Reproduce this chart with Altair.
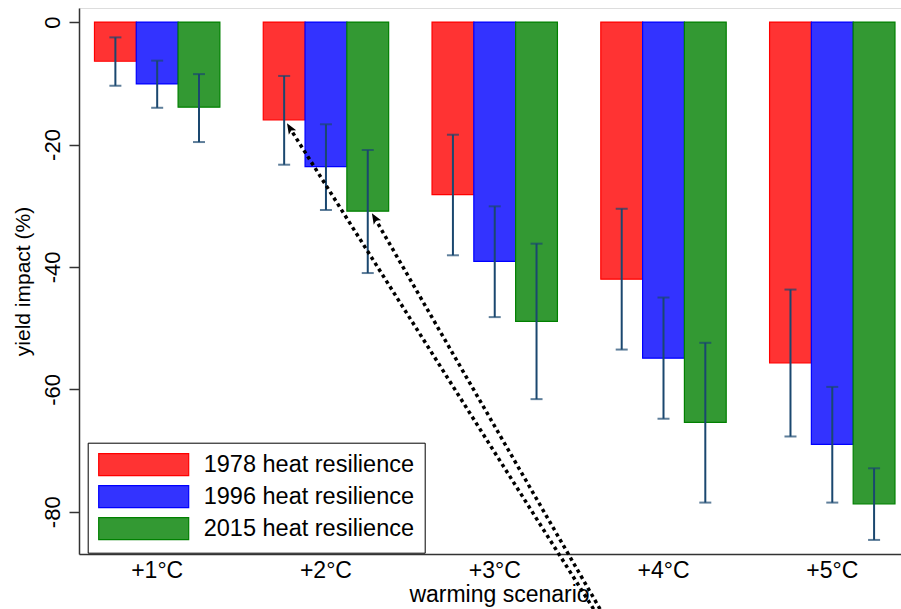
import altair as alt
import pandas as pd

# ---- data ----
scenarios = ["+1°C", "+2°C", "+3°C", "+4°C", "+5°C"]
series = ["1978 heat resilience", "1996 heat resilience", "2015 heat resilience"]

impact_1978 = [-6.4, -16.0, -28.2, -42.0, -55.7]
impact_1996 = [-10.1, -23.6, -39.1, -54.9, -69.0]
impact_2015 = [-13.9, -30.9, -48.9, -65.4, -78.7]

hi_1978 = [-2.5, -8.8, -18.4, -30.5, -43.7]
lo_1978 = [-10.4, -23.3, -38.1, -53.5, -67.7]
hi_1996 = [-6.3, -16.7, -30.1, -45.0, -59.6]
lo_1996 = [-14.0, -30.7, -48.2, -64.8, -78.5]
hi_2015 = [-8.5, -20.9, -36.2, -52.4, -72.9]
lo_2015 = [-19.6, -41.0, -61.6, -78.5, -84.6]

y_ticks = [0, -20, -40, -60, -80]

# annotation arrows (scenario-index units on x, impact units on y)
arrow_x_start = [3.587, 3.625]
arrow_y_start = [-95.9, -95.9]
arrow_x_end = [1.789, 2.292]
arrow_y_end = [-17.4, -32.1]

fill_colors = ["#ff3333", "#3333ff", "#339933"]
stroke_colors = ["#ff0000", "#0000ff", "#008000"]

rows = []
for s, vals, his, los in zip(series,
                             [impact_1978, impact_1996, impact_2015],
                             [hi_1978, hi_1996, hi_2015],
                             [lo_1978, lo_1996, lo_2015]):
    for sc, v, h, l in zip(scenarios, vals, his, los):
        rows.append({"scenario": sc, "series": s, "impact": v, "hi": h, "lo": l})
df = pd.DataFrame(rows)

arrows = pd.DataFrame({"xs": arrow_x_start, "ys": arrow_y_start,
                       "xe": arrow_x_end, "ye": arrow_y_end})

FONT = "Liberation Sans"
ERR = "#1a476f"

xscale = alt.Scale(domain=scenarios, paddingInner=0.257, paddingOuter=0.0637, align=0.72)
yscale = alt.Scale(domain=[-86.9, 2.3], nice=False)

base = alt.Chart(df).encode(
    x=alt.X("scenario:N", scale=xscale, sort=scenarios, title="warming scenario",
            axis=alt.Axis(ticks=False, labelAngle=0, labelFontSize=23, labelPadding=5,
                          titleFontSize=23, titlePadding=1, titleX=420,
                          domainColor="#333333", domainWidth=1.5, labelColor="black",
                          titleColor="black", titleFontWeight="normal")),
    xOffset=alt.XOffset("series:N", sort=series,
                        scale=alt.Scale(domain=series, paddingInner=0, paddingOuter=0)),
)

bars = base.mark_bar(strokeWidth=1.2).encode(
    y=alt.Y("impact:Q", scale=yscale, title="yield impact (%)",
            axis=alt.Axis(values=y_ticks, labelExpr="'' + datum.value",
                          labelAngle=270, labelAlign="center",
                          labelBaseline="alphabetic", labelFontSize=22, labelPadding=10,
                          tickSize=10, tickColor="#333333", tickWidth=1.5,
                          domainColor="#333333", domainWidth=1.5, grid=False,
                          labelColor="black", titleColor="black", titleFontSize=21,
                          titleFontWeight="normal", titlePadding=8)),
    y2=alt.datum(0),
    fill=alt.Fill("series:N", sort=series,
                  scale=alt.Scale(domain=series, range=fill_colors),
                  legend=alt.Legend(title=None, orient="none", legendX=8.7, legendY=434.7,
                                    strokeColor="black", fillColor="white", padding=10,
                                    symbolType="M-1,-1H7.18V1H-1Z", symbolSize=484,
                                    symbolOpacity=1, symbolStrokeWidth=1.2,
                                    labelFontSize=23.5, labelOffset=82, labelLimit=400,
                                    rowPadding=4, labelColor="black", labelFont=FONT)),
    stroke=alt.Stroke("series:N", sort=series,
                      scale=alt.Scale(domain=series, range=stroke_colors),
                      legend=None),
)

err = base.mark_rule(color=ERR, strokeWidth=2).encode(
    y=alt.Y("lo:Q", scale=yscale), y2="hi:Q")
cap_lo = base.mark_tick(color=ERR, thickness=2, size=12, orient="horizontal").encode(
    y=alt.Y("lo:Q", scale=yscale))
cap_hi = base.mark_tick(color=ERR, thickness=2, size=12, orient="horizontal").encode(
    y=alt.Y("hi:Q", scale=yscale))

main = alt.layer(bars, err, cap_lo, cap_hi)

ax_scale = alt.Scale(domain=[0.538, 5.408], nice=False, zero=False)
arrow_lines = alt.Chart(arrows).mark_rule(
    color="black", strokeWidth=3.5, strokeDash=[3.5, 3.5], clip=False
).encode(
    x=alt.X("xs:Q", scale=ax_scale, axis=None),
    x2="xe:Q",
    y=alt.Y("ys:Q", scale=yscale),
    y2="ye:Q",
)
arrow_heads = alt.Chart(arrows).mark_point(
    shape="M0,-1L0.7,0.75L0,0.35L-0.7,0.75Z", size=150, filled=True,
    color="black", opacity=1, angle=329, strokeWidth=0
).encode(
    x=alt.X("xe:Q", scale=ax_scale, axis=None),
    y=alt.Y("ye:Q", scale=yscale),
)
annot = alt.layer(arrow_lines, arrow_heads)

chart = alt.layer(main, annot).resolve_scale(
    x="independent"
).properties(
    width=822, height=546,
    autosize=alt.AutoSizeParams(type="none"),
    padding={"left": 79, "top": 8, "right": 0, "bottom": 55},
    background="white",
).configure_view(stroke=None).configure(font=FONT)

chart.save("out.html", embed_options={"renderer": "svg", "actions": False})
